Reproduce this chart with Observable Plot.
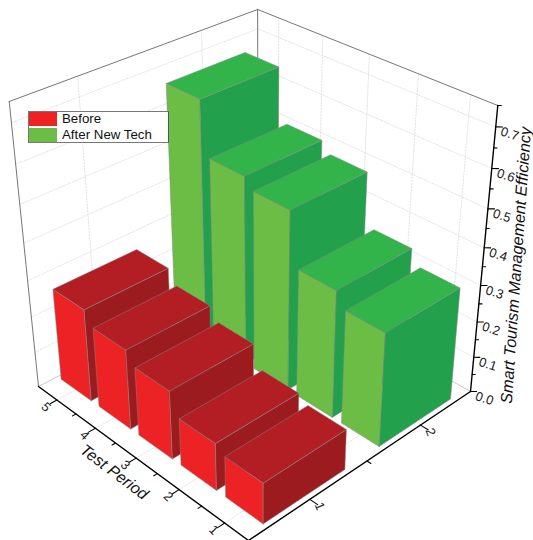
<!DOCTYPE html>
<html>
<head>
<meta charset="utf-8">
<script src="https://cdn.jsdelivr.net/npm/d3@7"></script>
<script src="https://cdn.jsdelivr.net/npm/@observablehq/plot@0.6"></script>
<style>
html,body{margin:0;padding:0;background:#fff;overflow:hidden;}
#wrap{position:relative;width:533px;height:540px;font-family:"Liberation Sans",Arial,sans-serif;}
#legend{position:absolute;left:28px;top:111px;width:139px;height:30px;background:#fff;border:1px solid #777;border-right-color:#555;}
#legend .row{position:absolute;left:0;height:14px;width:100%;font-size:13.3px;line-height:14px;color:#111;}
#legend .sw{position:absolute;left:0;top:0;width:28px;height:14px;}
#legend .tx{position:absolute;left:33px;top:0;white-space:nowrap;}
</style>
</head>
<body>
<div id="wrap">
<div id="chart"></div>
<div id="legend">
  <div class="row" style="top:0px"><span class="sw" style="background:#ed2224"></span><span class="tx">Before</span></div>
  <div class="row" style="top:16px"><span class="sw" style="background:#6cbd45"></span><span class="tx">After New Tech</span></div>
</div>
</div>
<script>
const groups = [1, 2];
const periods = [1, 2, 3, 4, 5];
const before = [0.112, 0.130, 0.189, 0.222, 0.258];
const after = [0.312, 0.351, 0.493, 0.520, 0.660];
const zMajor = [0, 0.1, 0.2, 0.3, 0.4, 0.5, 0.6, 0.7];
const zMinor = [0.05, 0.15, 0.25, 0.35, 0.45, 0.55, 0.65, 0.75];
const periodMinor = [1.5, 2.5, 3.5, 4.5];
const groupMinor = [1.5];

const palette = {
  1: {front: "#ed2224", top: "#b21e24", side: "#9c1b1f"},
  2: {front: "#6cbd45", top: "#33b44b", side: "#22a04b"}
};
const barW = 0.69, barD = 0.8;
const gMin = 0.5, gMax = 2.5, pMin = 0.5, pMax = 5.5, vMax = 0.75;

// Perspective projection of the (group, period, value) box
const toWorld = (g, p, v) => [(g - gMin) / (gMax - gMin), (p - pMin) / (pMax - pMin), v / vMax];
function proj(g, p, v) {
  const [X, Y, Z] = toWorld(g, p, v);
  const w = 1 + 0.1449 * X + 0.1508 * Y - 0.1329 * Z;
  return [
    (248 + 290.1 * X - 204.27 * Y - 34.85 * Z) / w,
    (540 - 92.34 * X - 95.79 * Y - 341.4 * Z) / w
  ];
}
const pt = (g, p, v, id) => { const [x, y] = proj(g, p, v); return {x, y, id}; };
const seg = (a, b, id) => [pt(...a, id), pt(...b, id)];

// Walls and floor
const grid = [];
let n = 0;
for (const v of zMajor.slice(1)) {
  grid.push(...seg([gMin, pMax, v], [gMax, pMax, v], n++));
  grid.push(...seg([gMax, pMax, v], [gMax, pMin, v], n++));
}
for (const g of groups) {
  grid.push(...seg([g, pMax, 0], [g, pMax, vMax], n++));
  grid.push(...seg([g, pMin, 0], [g, pMax, 0], n++));
}
for (const p of periods) {
  grid.push(...seg([gMax, p, 0], [gMax, p, vMax], n++));
  grid.push(...seg([gMin, p, 0], [gMax, p, 0], n++));
}
const frame = [
  ...seg([gMin, pMax, vMax], [gMax, pMax, vMax], "a"),
  ...seg([gMax, pMax, vMax], [gMax, pMin, vMax], "b"),
  ...seg([gMin, pMax, 0], [gMin, pMax, vMax], "c"),
  ...seg([gMax, pMax, 0], [gMax, pMax, vMax], "d")
];
const floorEdge = [
  ...seg([gMin, pMax, 0], [gMax, pMax, 0], "e"),
  ...seg([gMax, pMax, 0], [gMax, pMin, 0], "f")
];

// Axes
const axisLines = [
  ...seg([gMin, pMin, 0], [gMax, pMin, 0], "x"),
  ...seg([gMin, pMin, 0], [gMin, pMax, 0], "y"),
  ...seg([gMax, pMin, 0], [gMax, pMin, vMax], "z")
];
const ticks = [];
let t = 0;
for (const g of groups) ticks.push(...seg([g, pMin, 0], [g, pMin - 0.16, 0], t++));
for (const g of groupMinor) ticks.push(...seg([g, pMin, 0], [g, pMin - 0.08, 0], t++));
for (const p of periods) ticks.push(...seg([gMin, p, 0], [gMin - 0.055, p, 0], t++));
for (const p of periodMinor) ticks.push(...seg([gMin, p, 0], [gMin - 0.028, p, 0], t++));
for (const v of zMajor) ticks.push(...seg([gMax, pMin, v], [gMax + 0.028, pMin - 0.07, v], t++));
for (const v of zMinor) ticks.push(...seg([gMax, pMin, v], [gMax + 0.014, pMin - 0.035, v], t++));

// Bars, painted back to front
const bars = [];
for (const g of [...groups].reverse()) {
  const vals = g === 1 ? before : after;
  for (let i = periods.length - 1; i >= 0; i--) bars.push({g, p: periods[i], v: vals[i]});
}
function faces({g, p, v}) {
  const g0 = g - barW / 2, g1 = g + barW / 2, p0 = p - barD / 2, p1 = p + barD / 2;
  const c = palette[g];
  return [
    {fill: c.front, pts: [[g0,p0,0],[g0,p1,0],[g0,p1,v],[g0,p0,v],[g0,p0,0]]},
    {fill: c.side,  pts: [[g0,p0,0],[g1,p0,0],[g1,p0,v],[g0,p0,v],[g0,p0,0]]},
    {fill: c.top,   pts: [[g0,p0,v],[g1,p0,v],[g1,p1,v],[g0,p1,v],[g0,p0,v]]}
  ];
}
const barMarks = bars.flatMap(b => faces(b)).map(f =>
  Plot.line(f.pts.map(q => pt(q[0], q[1], q[2], 0)), {
    x: "x", y: "y", fill: f.fill, stroke: "#868686", strokeWidth: 0.5, strokeLinejoin: "round"
  })
);

const font = "Liberation Sans, Arial, sans-serif";
const chart = Plot.plot({
  width: 533, height: 540, margin: 0,
  x: {domain: [0, 533], range: [0, 533], axis: null},
  y: {domain: [0, 540], range: [0, 540], axis: null},
  style: {background: "transparent", fontFamily: font},
  marks: [
    Plot.line(grid, {x: "x", y: "y", z: "id", stroke: "#dcdcdc", strokeWidth: 0.8, strokeDasharray: "1.5,1.5"}),
    Plot.line(floorEdge, {x: "x", y: "y", z: "id", stroke: "#bbb", strokeWidth: 0.8}),
    Plot.line(frame, {x: "x", y: "y", z: "id", stroke: "#666", strokeWidth: 0.9}),
    ...barMarks,
    Plot.line(axisLines, {x: "x", y: "y", z: "id", stroke: "#000", strokeWidth: 1.4}),
    Plot.line(ticks, {x: "x", y: "y", z: "id", stroke: "#000", strokeWidth: 1.1}),
    Plot.text(groups, {
      x: g => proj(g, pMin, 0)[0], y: g => proj(g, pMin, 0)[1], text: g => String(g),
      dx: 10, dy: 7, rotate: 68, fontSize: 13, fill: "#222"
    }),
    Plot.text(periods, {
      x: p => proj(gMin, p, 0)[0], y: p => proj(gMin, p, 0)[1], text: p => String(p),
      dx: -11, dy: 7, rotate: 45, fontSize: 13, fill: "#222"
    }),
    Plot.text(zMajor, {
      x: v => proj(gMax, pMin, v)[0], y: v => proj(gMax, pMin, v)[1], text: v => v.toFixed(1),
      dx: 14, dy: 7, rotate: 18, fontSize: 13, fill: "#222"
    }),
    Plot.text(["Test Period"], {
      x: () => proj(gMin, 3, 0)[0], y: () => proj(gMin, 3, 0)[1], text: d => d,
      dx: -22, dy: 14, rotate: 37, fontSize: 16, fontStyle: "italic", fill: "#111"
    }),
    Plot.text(["Smart Tourism Management Efficiency"], {
      x: () => proj(gMax, pMin, 0.375)[0], y: () => proj(gMax, pMin, 0.375)[1], text: d => d,
      dx: 33, dy: 8, rotate: -86, fontSize: 16.2, fontStyle: "italic", fill: "#111"
    })
  ]
});
document.getElementById("chart").appendChild(chart);
</script>
</body>
</html>
